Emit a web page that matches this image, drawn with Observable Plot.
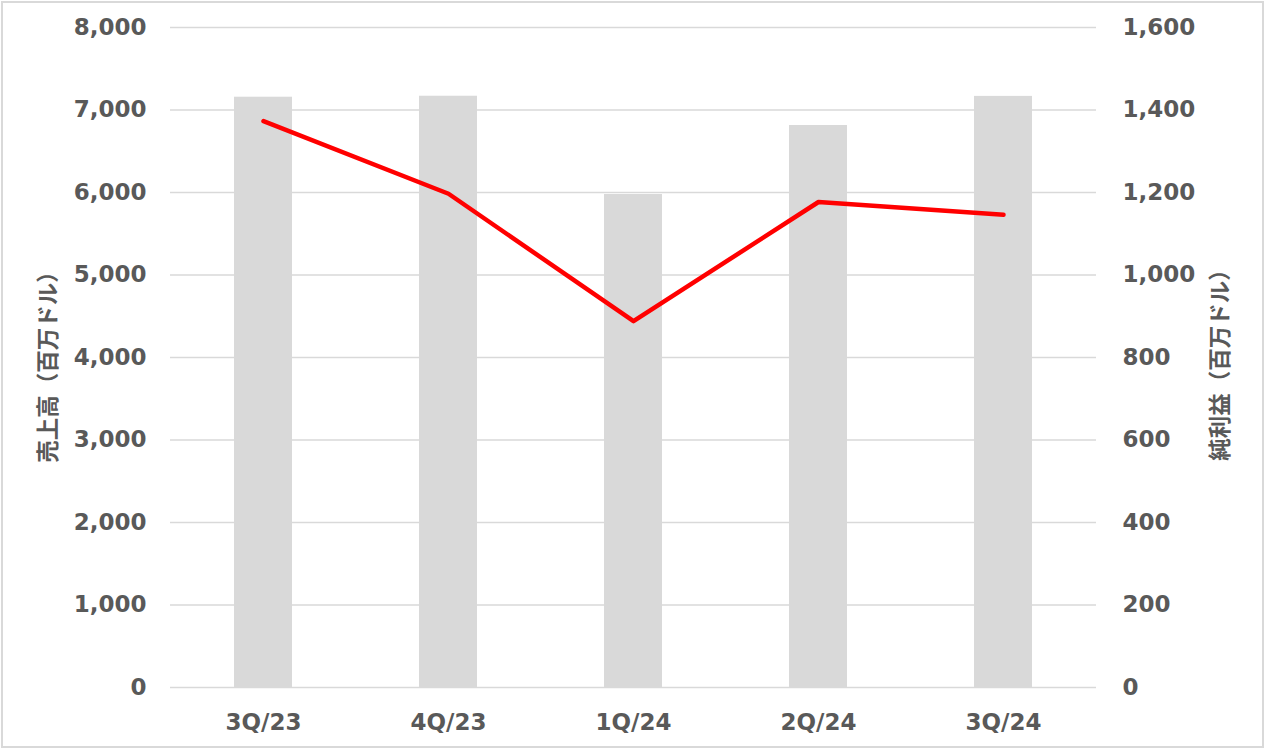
<!DOCTYPE html>
<html><head><meta charset="utf-8">
<script src="https://cdn.jsdelivr.net/npm/d3@7"></script>
<script src="https://cdn.jsdelivr.net/npm/@observablehq/plot@0.6"></script>
<style>
body{margin:0;background:#fff}
#frame{position:absolute;left:1px;top:1px;width:1263px;height:747px;box-sizing:border-box;border:2px solid #d9d9d9;pointer-events:none}
</style>
</head><body><div id="chart"></div><div id="frame"></div>
<script>
const quarters = ["3Q/23", "4Q/23", "1Q/24", "2Q/24", "3Q/24"];
const revenue = [7155, 7167, 5976, 6812, 7165];     // 売上高（百万ドル）
const netIncome = [1373, 1197, 888, 1177, 1146];    // 純利益（百万ドル）
const leftTicks = [0, 1000, 2000, 3000, 4000, 5000, 6000, 7000, 8000];
const rightTicks = [0, 200, 400, 600, 800, 1000, 1200, 1400, 1600];
const leftTitle = "売上高（百万ドル）";
const rightTitle = "純利益（百万ドル）";

const ratio = leftTicks[leftTicks.length - 1] / rightTicks[rightTicks.length - 1];
const data = quarters.map((q, i) => ({q, rev: revenue[i], ni: netIncome[i]}));
const fmt = d3.format(",");
const grey = "#595959";

const chart = Plot.plot({
  width: 1266,
  height: 750,
  marginLeft: 170,
  marginRight: 170,
  marginTop: 27,
  marginBottom: 63,
  style: {fontFamily: "'DejaVu Sans', Verdana, sans-serif", fontWeight: "bold", fontSize: "23px", color: grey, background: "#fff"},
  x: {domain: quarters, paddingInner: 0.687, paddingOuter: 0.343, label: null},
  y: {domain: [0, 8000], label: null},
  marks: [
    Plot.gridY(leftTicks, {stroke: "#d9d9d9", strokeOpacity: 1, strokeWidth: 1.5}),
    Plot.barY(data, {x: "q", y: "rev", fill: "#d9d9d9"}),
    Plot.lineY(data, {x: "q", y: d => d.ni * ratio, stroke: "#ff0000", strokeWidth: 4.5, strokeLinecap: "round", strokeLinejoin: "round"}),
    Plot.axisX({tickSize: 0, tickPadding: 26, label: null}),
    Plot.axisY(leftTicks, {anchor: "left", tickSize: 0, tickPadding: 24, tickFormat: fmt, label: null}),
    Plot.axisY(rightTicks.map(v => v * ratio), {anchor: "right", tickSize: 0, tickPadding: 26, tickFormat: d => fmt(d / ratio), label: null}),
    Plot.text([leftTitle], {frameAnchor: "left", textAnchor: "middle", lineAnchor: "middle", dx: -122, dy: 4, rotate: -90, text: d => d, fontFamily: "'Noto Sans CJK JP', sans-serif", fontWeight: "bold", fontSize: 22.5, fill: grey}),
    Plot.text([rightTitle], {frameAnchor: "right", textAnchor: "middle", lineAnchor: "middle", dx: 124, dy: 2, rotate: -90, text: d => d, fontFamily: "'Noto Sans CJK JP', sans-serif", fontWeight: "bold", fontSize: 22.5, fill: grey})
  ]
});
document.getElementById("chart").append(chart);
</script>
</body></html>
